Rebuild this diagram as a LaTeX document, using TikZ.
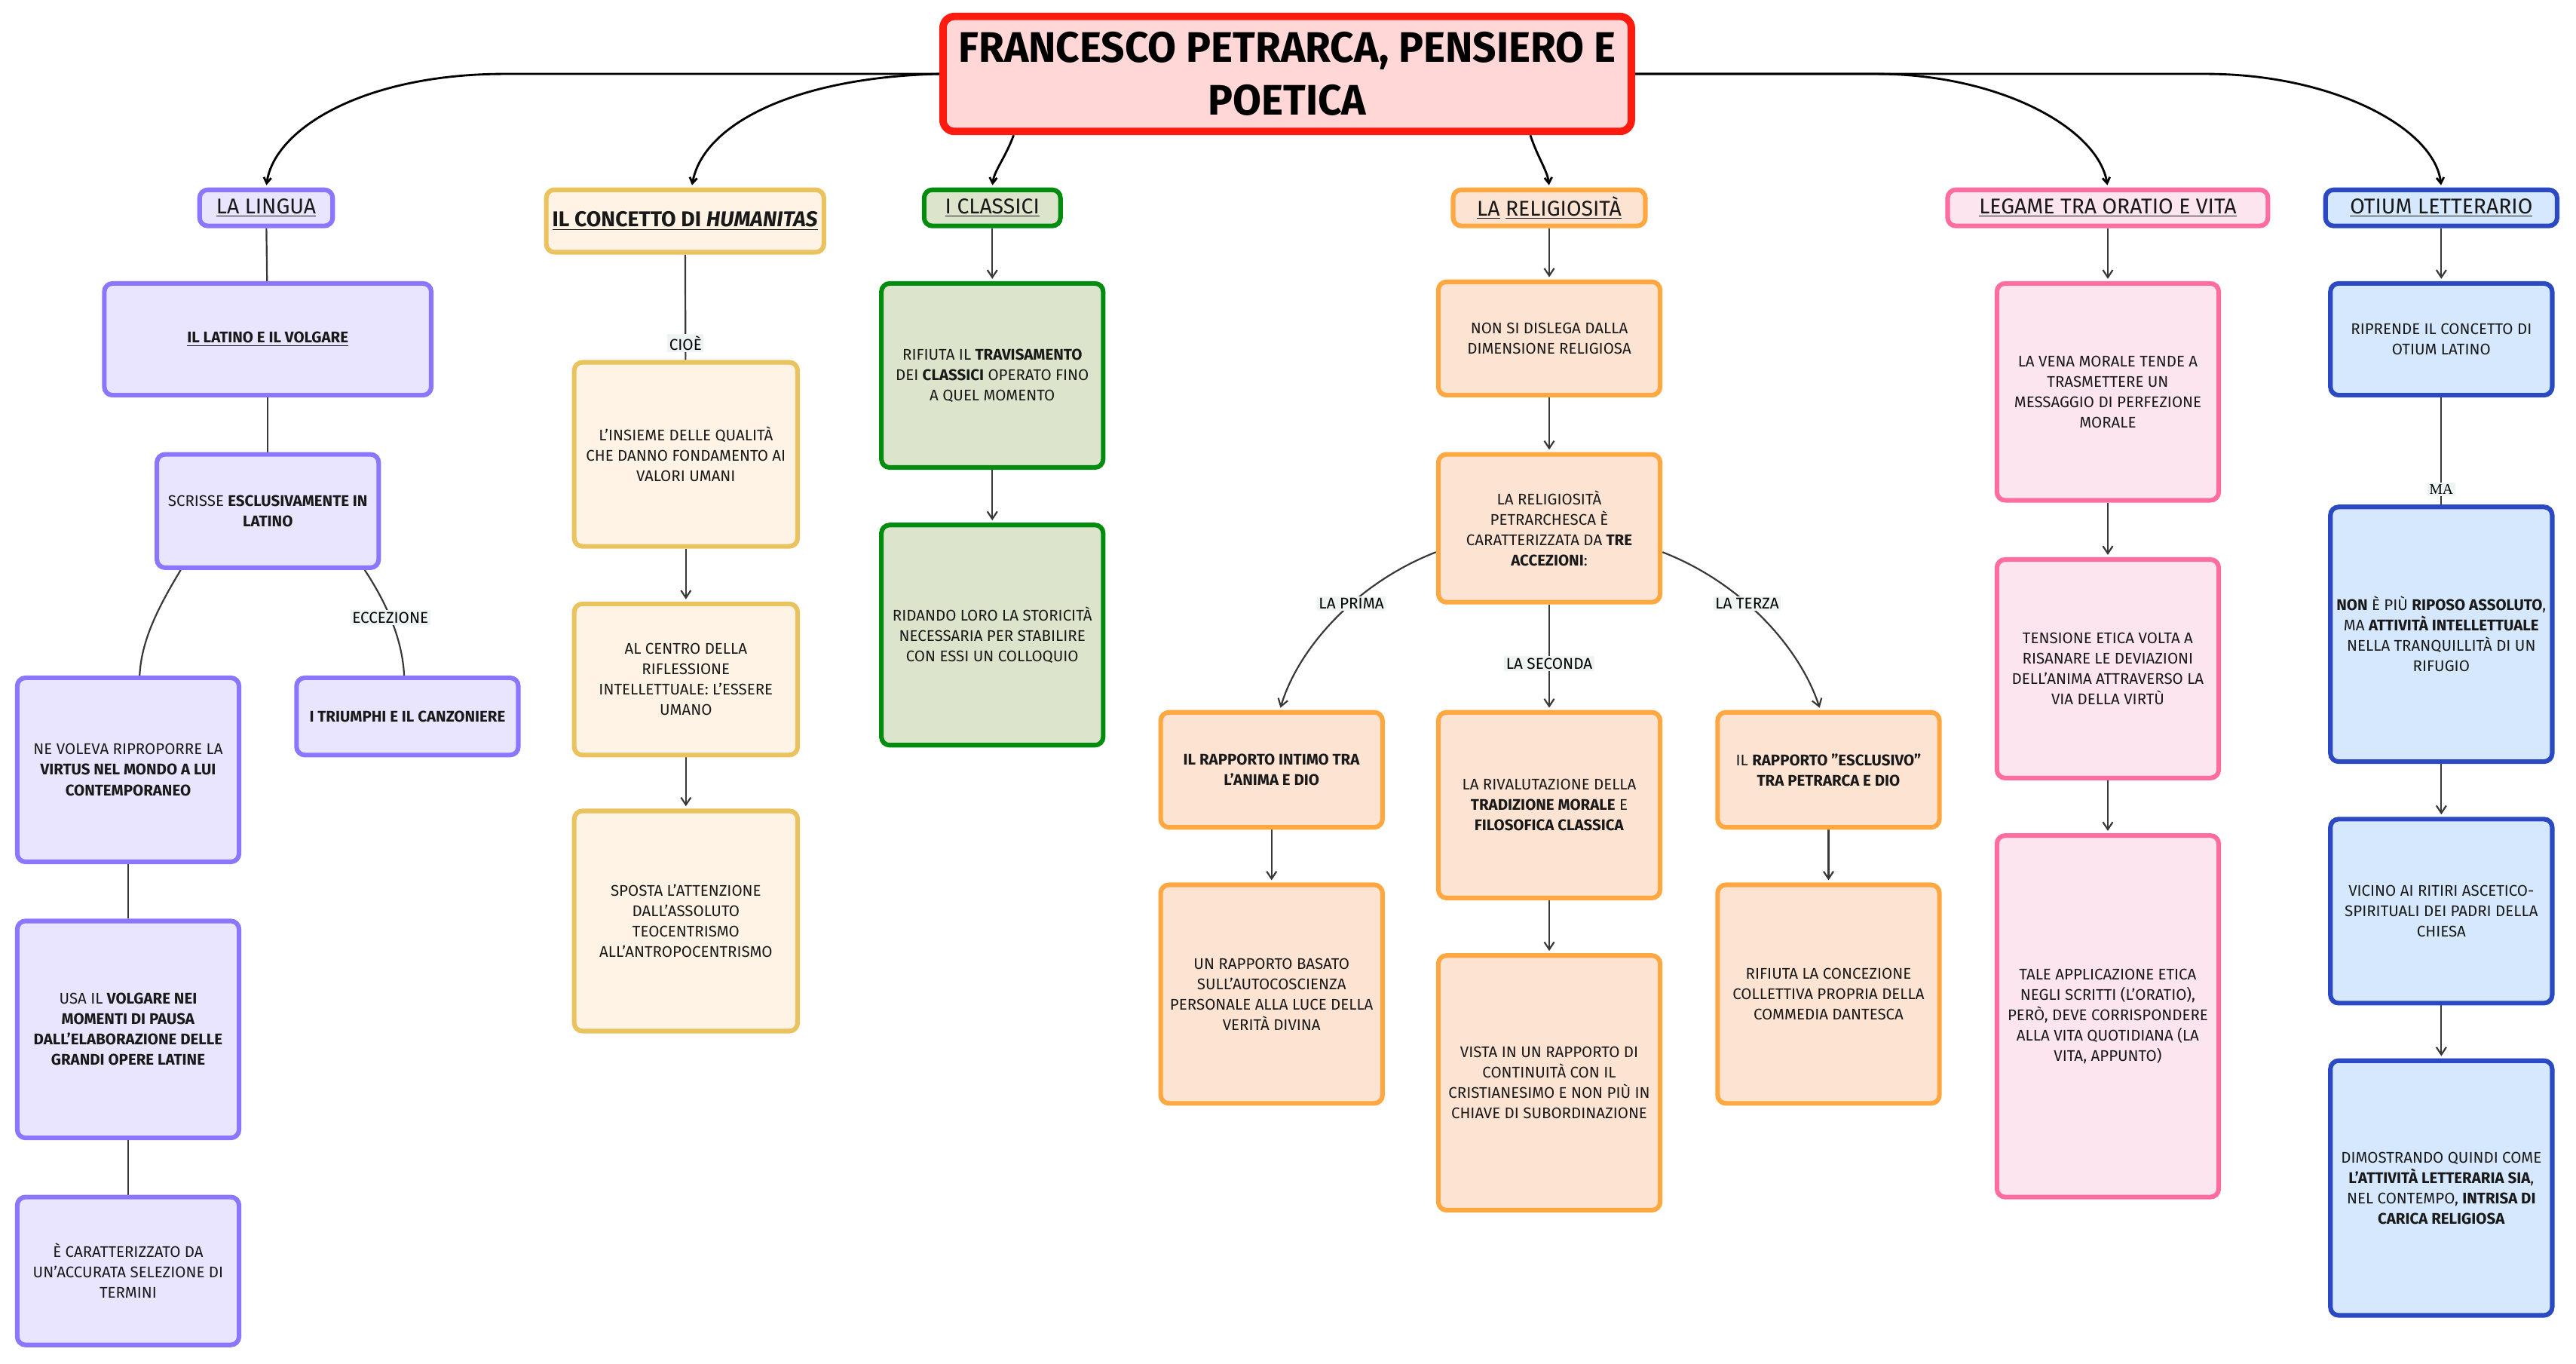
\documentclass[tikz,border=0pt]{standalone}
\usepackage{fontspec}
\setmainfont{Fira Sans}
\newfontfamily\titlefont{Fira Sans}[FakeStretch=0.97]
\newfontfamily\serifmafont{Liberation Serif}
\usetikzlibrary{arrows.meta}
\pgfdeclarelayer{back}
\pgfdeclarelayer{bg}
\pgfsetlayers{back,bg,main}

\definecolor{titleB}{HTML}{FF1A10}
\definecolor{titleF}{HTML}{FFD7D7}
\definecolor{purpB}{HTML}{8C76FE}
\definecolor{purpF}{HTML}{E9E5FF}
\definecolor{yelB}{HTML}{EAC35E}
\definecolor{yelF}{HTML}{FEF3E5}
\definecolor{grnB}{HTML}{008C0E}
\definecolor{grnF}{HTML}{DCE4CB}
\definecolor{oraB}{HTML}{FFA841}
\definecolor{oraF}{HTML}{FDE3D2}
\definecolor{pnkB}{HTML}{FF6C9F}
\definecolor{pnkF}{HTML}{FDE5EF}
\definecolor{bluB}{HTML}{2A49C3}
\definecolor{bluF}{HTML}{D5E8FD}
\definecolor{lineC}{HTML}{383838}
\definecolor{lblF}{HTML}{EEF4F4}

\tikzset{
  bx/.style={draw, rounded corners=5pt, line width=2.8pt, align=center, inner sep=0.5pt,
             text=black!90, font=\fontsize{9.4}{12.4}\selectfont},
  hd/.style={bx, font=\fontsize{13}{14}\selectfont},
  sz/.style 2 args={minimum width=#1pt, minimum height=#2pt},
  purp/.style={draw=purpB, fill=purpF},
  yel/.style={draw=yelB, fill=yelF},
  grn/.style={draw=grnB, fill=grnF},
  ora/.style={draw=oraB, fill=oraF},
  pnk/.style={draw=pnkB, fill=pnkF},
  blu/.style={draw=bluB, fill=bluF},
  flow/.style={draw=lineC, line width=1pt, -{Straight Barb[length=4.5pt,width=6pt]}, shorten >=1.4pt},
  pline/.style={draw=lineC, line width=1pt},
  topc/.style={draw=black, line width=1.3pt, -{Straight Barb[length=3.5pt,width=4.5pt]}, shorten >=1.4pt},
  lbl/.style={fill=lblF, inner sep=1.2pt, text=black, font=\fontsize{9.5}{11}\selectfont},
}

\begin{document}
\begin{tikzpicture}[x=1pt, y=-1pt]
\begin{pgfonlayer}{back}
\fill[white] (0,0) rectangle (1568,830);
\end{pgfonlayer}
\useasboundingbox (0,0) rectangle (1568,830);

% title
\node[draw=titleB, fill=titleF, line width=4.5pt, rounded corners=7pt, sz={419}{70}, align=center,
      font=\titlefont\bfseries\fontsize{26}{32}\selectfont] (title) at (783.5,45)
      {FRANCESCO PETRARCA, PENSIERO E\\POETICA};

% column 1 : la lingua
\node[hd,purp,sz={81}{22}] (lingua) at (162,126.5) {\underline{LA LINGUA}};
\node[bx,purp,sz={199}{68}] (latino) at (163,206.5) {\textbf{\underline{IL LATINO E IL VOLGARE}}};
\node[bx,purp,sz={135}{69}] (scrisse) at (163,311) {SCRISSE \textbf{ESCLUSIVAMENTE IN}\\\textbf{LATINO}};
\node[bx,purp,sz={135}{112}] (nevoleva) at (78,468.5) {NE VOLEVA RIPROPORRE LA\\\textbf{VIRTUS NEL MONDO A LUI}\\\textbf{CONTEMPORANEO}};
\node[bx,purp,sz={135}{132}] (usa) at (78,626.5) {USA IL \textbf{VOLGARE NEI}\\\textbf{MOMENTI DI PAUSA}\\\textbf{DALL'ELABORAZIONE DELLE}\\\textbf{GRANDI OPERE LATINE}};
\node[bx,purp,sz={135}{90}] (caratt) at (78,773.5) {È CARATTERIZZATO DA\\UN'ACCURATA SELEZIONE DI\\TERMINI};
\node[bx,purp,sz={135}{47}] (triumphi) at (248,436) {\textbf{I TRIUMPHI E IL CANZONIERE}};

% column 2 : humanitas
\node[hd,yel,sz={169}{38}] (concetto) at (417,134.5) {\underline{\textbf{IL CONCETTO DI \textit{HUMANITAS}}}};
\node[bx,yel,sz={136}{112}] (insieme) at (417.5,276.5) {L'INSIEME DELLE QUALITÀ\\CHE DANNO FONDAMENTO AI\\VALORI UMANI};
\node[bx,yel,sz={136}{92}] (centro) at (417.5,413.5) {AL CENTRO DELLA\\RIFLESSIONE\\INTELLETTUALE: L'ESSERE\\UMANO};
\node[bx,yel,sz={136}{134}] (sposta) at (417.5,560.5) {SPOSTA L'ATTENZIONE\\DALL'ASSOLUTO\\TEOCENTRISMO\\ALL'ANTROPOCENTRISMO};

% column 3 : classici
\node[hd,grn,sz={83}{22}] (classici) at (604,126.5) {\underline{I CLASSICI}};
\node[bx,grn,sz={135}{112}] (rifiuta) at (604,228.5) {RIFIUTA IL \textbf{TRAVISAMENTO}\\DEI \textbf{CLASSICI} OPERATO FINO\\A QUEL MOMENTO};
\node[bx,grn,sz={135}{134}] (ridando) at (604,386.5) {RIDANDO LORO LA STORICITÀ\\NECESSARIA PER STABILIRE\\CON ESSI UN COLLOQUIO};

% column 4 : religiosita
\node[hd,ora,sz={117}{22}] (relig) at (943,126.5) {\underline{LA} \underline{RELIGIOSITÀ}};
\node[bx,ora,sz={135}{69}] (nonsi) at (943,206) {NON SI DISLEGA DALLA\\DIMENSIONE RELIGIOSA};
\node[bx,ora,sz={135}{90}] (petr) at (943,321.5) {LA RELIGIOSITÀ\\PETRARCHESCA È\\CARATTERIZZATA DA \textbf{TRE}\\\textbf{ACCEZIONI}:};
\node[bx,ora,sz={135}{70}] (intimo) at (774,468.5) {\textbf{IL RAPPORTO INTIMO TRA}\\\textbf{L'ANIMA E DIO}};
\node[bx,ora,sz={135}{133}] (basato) at (774,605) {UN RAPPORTO BASATO\\SULL'AUTOCOSCIENZA\\PERSONALE ALLA LUCE DELLA\\VERITÀ DIVINA};
\node[bx,ora,sz={135}{113}] (rival) at (943,490) {LA RIVALUTAZIONE DELLA\\\textbf{TRADIZIONE MORALE} E\\\textbf{FILOSOFICA CLASSICA}};
\node[bx,ora,sz={135}{155}] (vista) at (943,659) {VISTA IN UN RAPPORTO DI\\CONTINUITÀ CON IL\\CRISTIANESIMO E NON PIÙ IN\\CHIAVE DI SUBORDINAZIONE};
\node[bx,ora,sz={135}{70}] (escl) at (1113,468.5) {IL \textbf{RAPPORTO "ESCLUSIVO"}\\\textbf{TRA PETRARCA E DIO}};
\node[bx,ora,sz={135}{133}] (concez) at (1113,605) {RIFIUTA LA CONCEZIONE\\COLLETTIVA PROPRIA DELLA\\COMMEDIA DANTESCA};

% column 5 : legame
\node[hd,pnk,sz={195}{22}] (legame) at (1283,126.5) {\underline{LEGAME TRA ORATIO E VITA}};
\node[bx,pnk,sz={135}{132}] (vena) at (1283,238.5) {LA VENA MORALE TENDE A\\TRASMETTERE UN\\MESSAGGIO DI PERFEZIONE\\MORALE};
\node[bx,pnk,sz={135}{133}] (tensione) at (1283,407) {TENSIONE ETICA VOLTA A\\RISANARE LE DEVIAZIONI\\DELL'ANIMA ATTRAVERSO LA\\VIA DELLA VIRTÙ};
\node[bx,pnk,sz={135}{220}] (tale) at (1283,618.5) {TALE APPLICAZIONE ETICA\\NEGLI SCRITTI (L'ORATIO),\\PERÒ, DEVE CORRISPONDERE\\ALLA VITA QUOTIDIANA (LA\\VITA, APPUNTO)};

% column 6 : otium
\node[hd,blu,sz={141}{22}] (otium) at (1486,126.5) {\underline{OTIUM LETTERARIO}};
\node[bx,blu,sz={135}{68}] (riprende) at (1486,206.5) {RIPRENDE IL CONCETTO DI\\OTIUM LATINO};
\node[bx,blu,sz={135}{155}] (nonpiu) at (1486,386) {\textbf{NON} È PIÙ \textbf{RIPOSO ASSOLUTO},\\MA \textbf{ATTIVITÀ INTELLETTUALE}\\NELLA TRANQUILLITÀ DI UN\\RIFUGIO};
\node[bx,blu,sz={135}{112}] (vicino) at (1486,554.5) {VICINO AI RITIRI ASCETICO-\\SPIRITUALI DEI PADRI DELLA\\CHIESA};
\node[bx,blu,sz={135}{155}] (dimostr) at (1486,723) {DIMOSTRANDO QUINDI COME\\\textbf{L'ATTIVITÀ LETTERARIA SIA},\\NEL CONTEMPO, \textbf{INTRISA DI}\\\textbf{CARICA RELIGIOSA}};

\begin{pgfonlayer}{bg}
% top connectors
\draw[topc] (title.west) -- (307,45) .. controls (222,45) and (167,78) .. (lingua.north);
\draw[topc] (title.west) .. controls (485,47) and (428,75) .. ([xshift=4pt]concetto.north);
\draw[topc] ([xshift=-166.5pt]title.south) .. controls (612,96) and (605,104) .. (classici.north);
\draw[topc] ([xshift=148pt]title.south) .. controls (936,96) and (942,104) .. (relig.north);
\draw[topc] (title.east) -- (1142,45) .. controls (1217,45) and (1277,78) .. (legame.north);
\draw[topc] (title.east) -- (1343,45) .. controls (1420,45) and (1482,78) .. (otium.north);

% column 1
\draw[pline] (lingua) -- (latino);
\draw[pline] (latino) -- (scrisse);
\draw[pline] ([xshift=-53pt]scrisse.south) .. controls (96,370) and (86,390) .. ([xshift=7pt]nevoleva.north);
\draw[pline] ([xshift=59pt]scrisse.south) .. controls (236,368) and (245,390) .. ([xshift=-2pt]triumphi.north)
   node[lbl,pos=0.45] {ECCEZIONE};
\draw[pline] (nevoleva) -- (usa);
\draw[pline] (usa) -- (caratt);

% column 2
\draw[pline] (concetto) -- node[lbl,pos=0.84] {CIOÈ} (insieme);
\draw[flow] (insieme) -- (centro);
\draw[flow] (centro) -- (sposta);

% column 3
\draw[flow] (classici) -- (rifiuta);
\draw[flow] (rifiuta) -- (ridando);

% column 4
\draw[flow] (relig) -- (nonsi);
\draw[flow] (nonsi) -- (petr);
\draw[flow] (petr) -- node[lbl,pos=0.56] {LA SECONDA} (rival);
\draw[flow] ([yshift=-14.5pt]petr.west) .. controls (825,355) and (790,395) .. ([xshift=5pt]intimo.north)
   node[lbl,pos=0.4] {LA PRIMA};
\draw[flow] ([yshift=-14.5pt]petr.east) .. controls (1061,355) and (1096,395) .. ([xshift=-5pt]escl.north)
   node[lbl,pos=0.4] {LA TERZA};
\draw[flow] (intimo) -- (basato);
\draw[flow] (rival) -- (vista);
\draw[flow] (escl) -- (concez);

% column 5
\draw[flow] (legame) -- (vena);
\draw[flow] (vena) -- (tensione);
\draw[flow] (tensione) -- (tale);

% column 6
\draw[flow] (otium) -- (riprende);
\draw[pline] (riprende) -- node[lbl,pos=0.86,font=\serifmafont\fontsize{9}{10}\selectfont] {MA} (nonpiu);
\draw[flow] (nonpiu) -- (vicino);
\draw[flow] (vicino) -- (dimostr);
\end{pgfonlayer}
\end{tikzpicture}
\end{document}
